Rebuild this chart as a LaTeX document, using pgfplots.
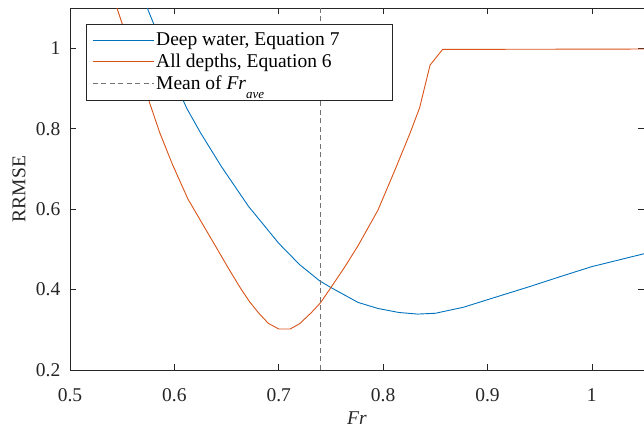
\documentclass[border=0pt]{standalone}
\usepackage{fontspec}
\setmainfont{Liberation Serif}
\usepackage{pgfplots}
\pgfplotsset{compat=1.18}
\usetikzlibrary{calc}

\definecolor{mblue}{rgb}{0,0.447,0.741}
\definecolor{morange}{rgb}{0.85,0.325,0.098}
\definecolor{maxis}{rgb}{0.15,0.15,0.15}
\definecolor{mgray}{rgb}{0.45,0.45,0.45}
\newcommand{\fs}{\fontsize{19.5bp}{23bp}\selectfont}

\begin{document}
\begin{tikzpicture}
\begin{axis}[
    scale only axis,
    width=574bp, height=362bp,
    xmin=0.5, xmax=1.05,
    ymin=0.2, ymax=1.1,
    xtick={0.5,0.6,0.7,0.8,0.9,1},
    ytick={0.2,0.4,0.6,0.8,1},
    tick align=inside,
    major tick length=6bp,
    axis line style={maxis, line width=0.6bp},
    every tick/.style={maxis, line width=0.6bp},
    /pgf/number format/assume math mode=true,
    /pgf/number format/fixed,
    tick label style={font=\fs, text=maxis},
    xticklabel style={inner sep=2bp, yshift=-16bp},
    yticklabel style={inner sep=9.5bp},
    xlabel={\textit{Fr}},
    ylabel={RRMSE},
    label style={font=\fs, text=maxis},
    xlabel style={at={(axis description cs:0.5,-0.132)}, anchor=center},
    ylabel style={at={(axis description cs:-0.089,0.5)}, anchor=center},
    legend cell align=left,
    legend image code/.code={\draw[#1] (0bp,0bp) -- (61bp,0bp);},
    legend style={
        at={(axis description cs:0,1)}, anchor=north west,
        xshift=16bp, yshift=-16bp,
        draw=maxis, line width=0.6bp, fill=white,
        font=\fs, text=black,
        row sep=3bp, inner xsep=6bp, inner ysep=6.5bp,
    },
]
% Deep water, Equation 7
\addplot[mblue, line width=0.9bp] coordinates {
    (0.574,1.100) (0.585,1.030) (0.600,0.918) (0.612,0.850)
    (0.625,0.790) (0.645,0.706) (0.671,0.607) (0.700,0.515)
    (0.720,0.462) (0.739,0.422) (0.750,0.405) (0.776,0.368)
    (0.795,0.353) (0.815,0.343) (0.833,0.339) (0.850,0.341)
    (0.877,0.356) (0.909,0.382) (0.940,0.407) (0.972,0.434)
    (1.000,0.457) (1.050,0.489)
};
\addlegendentry{\makebox[228bp][l]{Deep water, Equation 7}}
% All depths, Equation 6
\addplot[morange, line width=0.9bp] coordinates {
    (0.545,1.100) (0.555,1.022) (0.565,0.948) (0.575,0.874)
    (0.586,0.790) (0.598,0.712) (0.613,0.625) (0.627,0.563)
    (0.641,0.501) (0.652,0.452) (0.663,0.405) (0.672,0.370)
    (0.681,0.341) (0.690,0.316) (0.700,0.302) (0.711,0.302)
    (0.720,0.315) (0.731,0.342) (0.740,0.367) (0.750,0.405)
    (0.763,0.455) (0.776,0.509) (0.795,0.597) (0.811,0.695)
    (0.826,0.790) (0.835,0.852) (0.845,0.958) (0.857,0.997)
    (1.050,0.998)
};
\addlegendentry{All depths, Equation 6}
% mean of Fr_ave
\addplot[mgray, line width=0.9bp, dash pattern=on 5bp off 3.5bp] coordinates {
    (0.74,0.2) (0.74,1.1)
};
\addlegendentry{Mean of \textit{Fr}\raisebox{-9bp}[0pt][13bp]{\fontsize{13bp}{15bp}\selectfont\textit{ave}}}
\end{axis}
\pgfresetboundingbox
\useasboundingbox ($(current axis.south west)+(-70bp,-59bp)$) rectangle ($(current axis.north east)+(0bp,8bp)$);
\end{tikzpicture}
\end{document}
